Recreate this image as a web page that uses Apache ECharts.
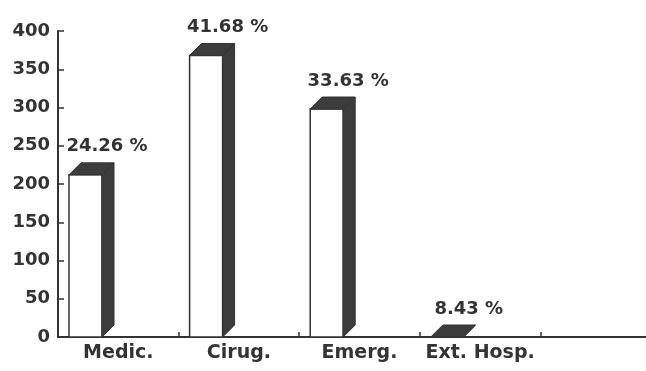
<!DOCTYPE html>
<html>
<head>
<meta charset="utf-8">
<script src="https://cdn.jsdelivr.net/npm/echarts@6/dist/echarts.min.js"></script>
<style>
  html, body { margin: 0; padding: 0; background: #fff; }
  #chart { width: 646px; height: 371px; }
</style>
</head>
<body>
<div id="chart"></div>
<script>
// categories (last slot is empty, axis keeps going)
var categories = ['Medic.', 'Cirug.', 'Emerg.', 'Ext. Hosp.', ''];
// bar heights as drawn in the picture
var counts = [212, 368, 298, 0];
// percentage labels over the bars
var percents = ['24.26 %', '41.68 %', '33.63 %', '8.43 %'];
var yTicks = { min: 0, max: 400, step: 50 };

var ink = '#333';
var shade = '#3c3c3c';
var fontFam = '"DejaVu Sans", Verdana, sans-serif';

// 3d-ish bar: white front, dark side and top
function renderBar(params, api) {
  var idx = api.value(0);
  var val = api.value(1);
  var base = api.coord([idx, 0]);
  var top = api.coord([idx, val]);
  var band = api.size([1, 0])[0];
  var w = 33, d = 12;
  var x0 = base[0] - band / 2 + 11;
  var yt = top[1], yb = base[1];
  var kids = [];
  if (yb - yt > 0) {
    kids.push({
      type: 'rect',
      shape: { x: x0, y: yt, width: w, height: yb - yt },
      style: { fill: '#fff', stroke: ink, lineWidth: 1.5 }
    });
    kids.push({
      type: 'polygon',
      shape: { points: [[x0 + w, yt], [x0 + w + d, yt - d], [x0 + w + d, yb - d], [x0 + w, yb]] },
      style: { fill: shade, stroke: ink, lineWidth: 1 }
    });
  }
  kids.push({
    type: 'polygon',
    shape: { points: [[x0, yt], [x0 + d, yt - d], [x0 + w + d, yt - d], [x0 + w, yt]] },
    style: { fill: shade, stroke: ink, lineWidth: 1 }
  });
  kids.push({
    type: 'text',
    style: {
      text: percents[params.dataIndex],
      x: x0 + 38,
      y: yt - d - 7,
      align: 'center',
      verticalAlign: 'bottom',
      fill: ink,
      font: 'bold 18px ' + fontFam
    }
  });
  return { type: 'group', children: kids };
}

var chart = echarts.init(document.getElementById('chart'));
chart.setOption({
  backgroundColor: '#fff',
  animation: false,
  grid: { left: 58, right: -15, top: 31, bottom: 34, outerBoundsMode: 'none' },
  xAxis: {
    type: 'category',
    data: categories,
    axisLine: { lineStyle: { color: ink, width: 2 } },
    axisTick: { show: true, inside: true, length: 5, lineStyle: { color: ink, width: 1.5 } },
    axisLabel: {
      interval: 0,
      hideOverlap: false,
      color: ink,
      fontWeight: 'bold',
      fontSize: 19,
      fontFamily: fontFam,
      margin: 7
    }
  },
  yAxis: {
    type: 'value',
    min: yTicks.min,
    max: yTicks.max,
    interval: yTicks.step,
    axisLine: { show: true, lineStyle: { color: ink, width: 2 } },
    axisTick: { show: true, inside: true, length: 6, lineStyle: { color: ink, width: 1.5 } },
    splitLine: { show: false },
    axisLabel: {
      color: ink,
      fontWeight: 'bold',
      fontSize: 18,
      fontFamily: fontFam,
      margin: 8
    }
  },
  series: [{
    type: 'custom',
    renderItem: renderBar,
    encode: { x: 0, y: 1 },
    data: counts.map(function (v, i) { return [i, v]; })
  }]
});
</script>
</body>
</html>
